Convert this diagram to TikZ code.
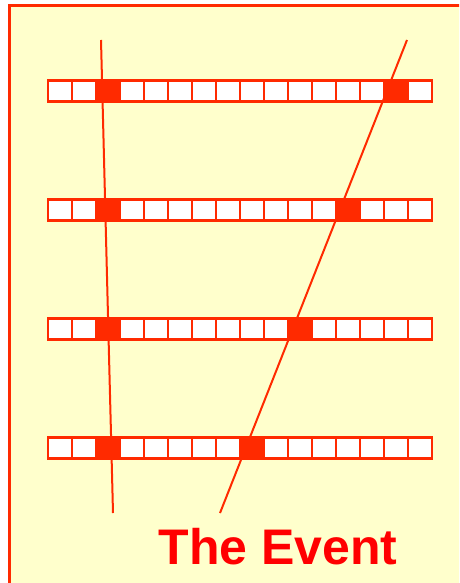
\documentclass[tikz,border=0pt]{standalone}
\usepackage{fontspec}
\setmainfont{Liberation Sans}
\definecolor{bgyellow}{HTML}{FFFFCC}
\definecolor{orred}{HTML}{FF2A00}
\definecolor{txtred}{HTML}{FF0000}
\begin{document}
\begin{tikzpicture}[x=1pt,y=-1pt,
  cellbox/.style={draw=orred,line width=2.4pt,fill=white,minimum width=24pt,minimum height=21pt,inner sep=0pt,outer sep=0pt},
  hitbox/.style={cellbox,fill=orred},
  track/.style={draw=orred,line width=2pt},
  frame/.style={draw=orred,line width=3pt,fill=bgyellow}]
\useasboundingbox (0,0) rectangle (459,583);
\begin{scope}
\clip (0,0) rectangle (459,583);
\draw[frame] (9.5,6) rectangle (480,600);
\end{scope}
% rows of cells
\foreach \r/\y/\h in {1/91/15,2/210/13,3/329/11,4/448/9}{
  \foreach \i in {0,...,15}{
    \pgfmathtruncatemacro{\c}{\i+1}
    \ifnum\c=3
      \node[hitbox] (r\r c\c) at (60+24*\i,\y) {};
    \else\ifnum\c=\h
      \node[hitbox] (r\r c\c) at (60+24*\i,\y) {};
    \else
      \node[cellbox] (r\r c\c) at (60+24*\i,\y) {};
    \fi\fi
  }
}
\coordinate (t1) at (101,40);
\coordinate (b1) at (113,513);
\coordinate (t2) at (407,40);
\coordinate (b2) at (220,513);
\draw[track] (t1) -- (b1);
\draw[track] (t2) -- (b2);
\node[anchor=base,text=txtred,font=\fontsize{50}{56}\selectfont\bfseries,inner sep=0pt] (title) at (278,564) {The Event};
\end{tikzpicture}
\end{document}
